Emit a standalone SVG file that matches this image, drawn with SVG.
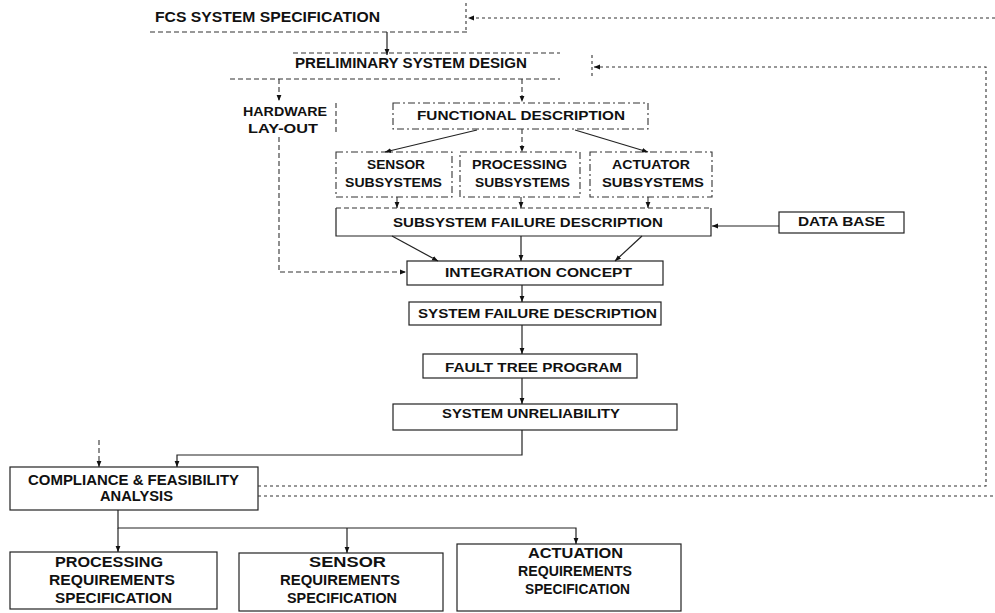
<svg xmlns="http://www.w3.org/2000/svg" width="995" height="613" viewBox="0 0 995 613">
<style>
text{font-family:"Liberation Sans",Arial,sans-serif;font-weight:bold;fill:#111;font-size:13px}
.big{font-size:14px}
.req{font-size:14.5px}
.box{fill:none;stroke:#222;stroke-width:1.2}
.dbox{fill:none;stroke:#333;stroke-width:1.1;stroke-dasharray:7 3 2 3}
.ln{fill:none;stroke:#222;stroke-width:1.2}
.dl{fill:none;stroke:#333;stroke-width:1.1;stroke-dasharray:5 3}
.dot{fill:none;stroke:#333;stroke-width:1.1;stroke-dasharray:3 3}
</style>
<defs>
<marker id="ah" viewBox="0 0 10 10" refX="10" refY="5" markerWidth="6" markerHeight="6" markerUnits="userSpaceOnUse" orient="auto">
<path d="M0,1 L10,5 L0,9 z" fill="#111"/>
</marker>
</defs>
<rect width="995" height="613" fill="#fff"/>

<g id="fcs-spec">
<text class="big" x="155" y="22" textLength="225" lengthAdjust="spacingAndGlyphs">FCS SYSTEM SPECIFICATION</text>
<line class="dl" x1="150" y1="32" x2="470" y2="32"/>
<line class="dot" x1="466" y1="3" x2="466" y2="30"/>
</g>
<g id="preliminary">
<line class="dl" x1="293" y1="53" x2="560" y2="53"/>
<text class="big" x="295" y="68" textLength="232" lengthAdjust="spacingAndGlyphs">PRELIMINARY SYSTEM DESIGN</text>
<line class="dl" x1="230" y1="79" x2="560" y2="79"/>
<line class="dot" x1="592" y1="55" x2="592" y2="78"/>
</g>
<g id="hardware">
<text x="243" y="116" textLength="84" lengthAdjust="spacingAndGlyphs">HARDWARE</text>
<text x="248" y="133" textLength="70" lengthAdjust="spacingAndGlyphs">LAY-OUT</text>
<line class="dl" x1="336" y1="103" x2="336" y2="133"/>
</g>
<g id="functional">
<rect class="dbox" x="393" y="103" width="255" height="26"/>
<text x="417" y="120" textLength="208" lengthAdjust="spacingAndGlyphs">FUNCTIONAL DESCRIPTION</text>
</g>
<g id="sensor-sub">
<rect class="dbox" x="336" y="152" width="116" height="45"/>
<text x="367" y="169" textLength="58" lengthAdjust="spacingAndGlyphs">SENSOR</text>
<text x="345" y="187" textLength="97" lengthAdjust="spacingAndGlyphs">SUBSYSTEMS</text>
</g>
<g id="processing-sub">
<rect class="dbox" x="460" y="152" width="120" height="45"/>
<text x="472" y="169" textLength="95" lengthAdjust="spacingAndGlyphs">PROCESSING</text>
<text x="475" y="187" textLength="95" lengthAdjust="spacingAndGlyphs">SUBSYSTEMS</text>
</g>
<g id="actuator-sub">
<rect class="dbox" x="590" y="152" width="122" height="45"/>
<text x="612" y="169" textLength="78" lengthAdjust="spacingAndGlyphs">ACTUATOR</text>
<text x="602" y="187" textLength="102" lengthAdjust="spacingAndGlyphs">SUBSYSTEMS</text>
</g>
<g id="subsystem-failure">
<line class="dl" x1="336" y1="208" x2="711" y2="208"/>
<path class="ln" d="M336,208 V236 H711 V208"/>
<text x="393" y="227" textLength="270" lengthAdjust="spacingAndGlyphs">SUBSYSTEM FAILURE DESCRIPTION</text>
</g>
<g id="data-base">
<rect class="box" x="779" y="212" width="125" height="21"/>
<text x="798" y="226" textLength="87" lengthAdjust="spacingAndGlyphs">DATA BASE</text>
</g>
<g id="integration">
<rect class="box" x="407" y="261" width="256" height="24"/>
<text x="445" y="277" textLength="187" lengthAdjust="spacingAndGlyphs">INTEGRATION CONCEPT</text>
</g>
<g id="system-failure">
<rect class="box" x="409" y="302" width="252" height="23"/>
<text x="418" y="318" textLength="239" lengthAdjust="spacingAndGlyphs">SYSTEM FAILURE DESCRIPTION</text>
</g>
<g id="fault-tree">
<rect class="box" x="423" y="354" width="214" height="24"/>
<text x="445" y="372" textLength="177" lengthAdjust="spacingAndGlyphs">FAULT TREE PROGRAM</text>
</g>
<g id="unreliability">
<rect class="box" x="393" y="404" width="284" height="26"/>
<text x="442" y="418" textLength="178" lengthAdjust="spacingAndGlyphs">SYSTEM UNRELIABILITY</text>
</g>
<g id="compliance">
<rect class="box" x="10" y="467" width="248" height="43"/>
<text class="req" x="28" y="485" textLength="211" lengthAdjust="spacingAndGlyphs">COMPLIANCE &amp; FEASIBILITY</text>
<text class="req" x="100" y="501" textLength="73" lengthAdjust="spacingAndGlyphs">ANALYSIS</text>
</g>
<g id="processing-req">
<rect class="box" x="10" y="552" width="207" height="57"/>
<text class="req" x="55" y="567" textLength="108" lengthAdjust="spacingAndGlyphs">PROCESSING</text>
<text class="req" x="49" y="585" textLength="126" lengthAdjust="spacingAndGlyphs">REQUIREMENTS</text>
<text class="req" x="55" y="603" textLength="117" lengthAdjust="spacingAndGlyphs">SPECIFICATION</text>
</g>
<g id="sensor-req">
<rect class="box" x="239" y="553" width="204" height="58"/>
<text class="req" x="309" y="567" textLength="77" lengthAdjust="spacingAndGlyphs">SENSOR</text>
<text class="req" x="280" y="585" textLength="120" lengthAdjust="spacingAndGlyphs">REQUIREMENTS</text>
<text class="req" x="287" y="603" textLength="110" lengthAdjust="spacingAndGlyphs">SPECIFICATION</text>
</g>
<g id="actuation-req">
<rect class="box" x="457" y="544" width="224" height="67"/>
<text class="req" x="528" y="558" textLength="95" lengthAdjust="spacingAndGlyphs">ACTUATION</text>
<text class="req" x="518" y="576" textLength="114" lengthAdjust="spacingAndGlyphs">REQUIREMENTS</text>
<text class="req" x="525" y="594" textLength="105" lengthAdjust="spacingAndGlyphs">SPECIFICATION</text>
</g>

<g id="connectors">
<line class="ln" x1="387" y1="32" x2="387" y2="55" marker-end="url(#ah)"/>
<line class="dot" x1="995" y1="18" x2="468" y2="18" marker-end="url(#ah)"/>
<path class="dot" d="M258,486 H986 V67 H594" marker-end="url(#ah)"/>
<line class="dot" x1="258" y1="496" x2="995" y2="496"/>
<line class="dl" x1="279" y1="79" x2="279" y2="101" marker-end="url(#ah)"/>
<line class="dl" x1="522" y1="79" x2="522" y2="102" marker-end="url(#ah)"/>
<path class="dl" d="M279,137 V272 H406" marker-end="url(#ah)"/>
<line class="ln" x1="477" y1="130" x2="385" y2="152" marker-end="url(#ah)"/>
<line class="dl" x1="522" y1="129" x2="522" y2="152" marker-end="url(#ah)"/>
<line class="ln" x1="575" y1="130" x2="648" y2="152" marker-end="url(#ah)"/>
<line class="dl" x1="397" y1="197" x2="397" y2="208" marker-end="url(#ah)"/>
<line class="dl" x1="521" y1="197" x2="521" y2="208" marker-end="url(#ah)"/>
<line class="dl" x1="648" y1="197" x2="648" y2="208" marker-end="url(#ah)"/>
<line class="ln" x1="779" y1="226" x2="712" y2="226" marker-end="url(#ah)"/>
<line class="ln" x1="392" y1="236" x2="438" y2="261" marker-end="url(#ah)"/>
<line class="ln" x1="521" y1="236" x2="521" y2="261" marker-end="url(#ah)"/>
<line class="ln" x1="642" y1="236" x2="615" y2="261" marker-end="url(#ah)"/>
<line class="ln" x1="522" y1="285" x2="522" y2="302" marker-end="url(#ah)"/>
<line class="ln" x1="522" y1="325" x2="522" y2="354" marker-end="url(#ah)"/>
<line class="ln" x1="522" y1="378" x2="522" y2="404" marker-end="url(#ah)"/>
<path class="ln" d="M522,430 V455 H177 V467" marker-end="url(#ah)"/>
<line class="dl" x1="99" y1="440" x2="99" y2="467" marker-end="url(#ah)"/>
<path class="ln" d="M118,510 V528 H576 V544" marker-end="url(#ah)"/>
<line class="ln" x1="118" y1="528" x2="118" y2="552" marker-end="url(#ah)"/>
<line class="ln" x1="347" y1="528" x2="347" y2="553" marker-end="url(#ah)"/>
</g>
</svg>
